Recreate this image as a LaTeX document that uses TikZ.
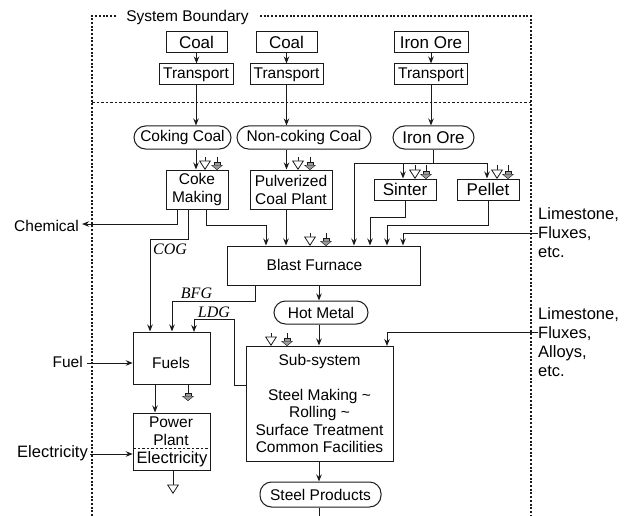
\documentclass[tikz,border=0pt]{standalone}
\usepackage{fontspec}
\setmainfont{Liberation Sans}
\newfontfamily\gasfont{Liberation Serif}
\usepackage{xcolor}
\definecolor{cLine}{HTML}{1A1A1A}
\definecolor{cWaste}{HTML}{9A9A9A}
\usetikzlibrary{positioning,arrows.meta,calc}
\tikzset{
  node-box/.style={draw=cLine,line width=1pt,inner sep=0pt,align=center,
    font=\fontsize{15.5}{18}\selectfont},
  node-pill/.style={node-box,rounded corners=11.5pt},
  node-large/.style={font=\fontsize{17}{20}\selectfont},
  node-text/.style={inner sep=0pt,align=left,font=\fontsize{15.5}{19}\selectfont},
  node-outer/.style={node-text,font=\fontsize{16.5}{19}\selectfont},
  node-gas/.style={inner sep=0pt,font=\fontsize{16}{18}\gasfont\itshape},
  arrow/.style={-{Stealth[length=7pt,width=5.5pt]},line width=1pt,draw=cLine},
  line-plain/.style={line width=1pt,draw=cLine},
  arrow-white/.style={-{Triangle[open,fill=white,length=9.5pt,width=12pt,line width=0.8pt]},line width=0.8pt,draw=cLine},
  arrow-grey/.style={-{Rectangle[length=3.5pt,width=6pt,fill=cWaste,line width=0.4pt,sep=0pt]Triangle[fill=cWaste,length=5pt,width=12pt,line width=0.4pt]},line width=0.8pt,draw=cLine},
  boundary/.style={line width=2pt,draw=cLine,dash pattern=on 2pt off 1.7pt},
  divider/.style={line width=0.9pt,draw=cLine,dash pattern=on 2.5pt off 2pt},
}
\begin{document}
\begin{tikzpicture}[x=1pt,y=-1pt]
  \useasboundingbox (0,0) rectangle (634,516);
  % boundary
  \node[node-text] (sysb) at (187.5,17) {System Boundary};
  \coordinate (bl-top) at (92,16);
  \coordinate (bl-bot) at (92,516);
  \coordinate (br-top) at (531,16);
  \coordinate (br-bot) at (531,516);
  \coordinate (bl-mid) at (92,102);
  \coordinate (br-mid) at (531,102);
  \coordinate (sb-a) at (116,16);
  \coordinate (sb-b) at (260,16);
  \draw[boundary] (bl-bot) -- (bl-top) -- (sb-a);
  \draw[boundary] (sb-b) -- (br-top) -- (br-bot);
  \draw[divider] (bl-mid) -- (br-mid);
  % supply
  \node[node-box,node-large,minimum width=61pt,minimum height=21pt] (coal-a) at (196.5,42.5) {Coal};
  \node[node-box,minimum width=74pt,minimum height=21pt] (trans-a) at (196,74.5) {Transport};
  \node[node-box,node-large,minimum width=61pt,minimum height=21pt] (coal-b) at (286.5,42.5) {Coal};
  \node[node-box,minimum width=73pt,minimum height=21pt] (trans-b) at (286.5,74.5) {Transport};
  \node[node-box,node-large,minimum width=74pt,minimum height=21pt] (ore-a) at (431,42.5) {Iron Ore};
  \node[node-box,minimum width=73pt,minimum height=21pt] (trans-c) at (431,74.5) {Transport};
  \node[node-pill,minimum width=97pt,minimum height=23pt] (coking) at (182.5,137.5) {Coking Coal};
  \node[node-pill,minimum width=134pt,minimum height=23pt] (noncoking) at (304,137.5) {Non-coking Coal};
  \node[node-pill,node-large,minimum width=81pt,minimum height=23pt] (ore-b) at (433.5,137.5) {Iron Ore};
  % plants
  \node[node-box,minimum width=62pt,minimum height=39pt] (coke) at (197,189.5) {Coke\\Making};
  \node[node-box,minimum width=82pt,minimum height=39pt] (pulv) at (291,189.5) {Pulverized\\Coal Plant};
  \node[node-box,node-large,minimum width=62pt,minimum height=21pt] (sinter) at (405,189.5) {Sinter};
  \node[node-box,node-large,minimum width=62pt,minimum height=21pt] (pellet) at (488,189.5) {Pellet};
  \node[node-box,minimum width=193pt,minimum height=39pt] (furnace) at (323.5,265.5) {};
  \node[node-text] (furnace-t) at (314.5,265) {Blast Furnace};
  \node[node-pill,minimum width=94pt,minimum height=23pt] (hot) at (321,312.5) {Hot Metal};
  \node[node-box,minimum width=147pt,minimum height=115pt] (sub) at (319.5,403.5) {};
  \node[node-text,align=center] (sub-a) at (319.5,361) {Sub-system};
  \node[node-text,align=center,font=\fontsize{15.5}{17.4}\selectfont] (sub-b) at (319.5,421) {Steel Making \textasciitilde\\Rolling \textasciitilde\\Surface Treatment\\Common Facilities};
  \node[node-pill,minimum width=121pt,minimum height=25pt] (steel) at (320.5,494.5) {Steel Products};
  \node[node-box,minimum width=77.5pt,minimum height=52pt] (fuels) at (172,358) {};
  \node[node-text] (fuels-t) at (171,363) {Fuels};
  \node[node-box,minimum width=77.5pt,minimum height=57pt] (power) at (172,441.5) {};
  \node[node-text,align=center,font=\fontsize{15.5}{18}\selectfont] (power-a) at (171,431) {Power\\Plant};
  \node[node-text,font=\fontsize{16.5}{19}\selectfont] (power-b) at (172,459) {Electricity};
  \coordinate (div-a) at (133.25,448);
  \coordinate (div-b) at (210.75,448);
  \draw[divider] (div-a) -- (div-b);
  % outside labels
  \node[node-text,anchor=east] (chem) at (79,226) {Chemical};
  \node[node-text,anchor=east] (fuel) at (83,362) {Fuel};
  \node[node-outer,anchor=east] (elec) at (88,453) {Electricity};
  \node[node-outer,anchor=west] (lime-a) at (538,233) {Limestone,\\Fluxes,\\etc.};
  \node[node-outer,anchor=west] (lime-b) at (538,342) {Limestone,\\Fluxes,\\Alloys,\\etc.};
  \node[node-gas] (cog) at (170,249) {COG};
  \node[node-gas] (bfg) at (196.5,293) {BFG};
  \node[node-gas] (ldg) at (214,312) {LDG};
  % main flows
  \draw[arrow] (coal-a) -- (trans-a.north -| coal-a);
  \draw[arrow] (coal-b) -- (trans-b.north -| coal-b);
  \draw[arrow] (ore-a) -- (trans-c.north -| ore-a);
  \draw[arrow] (trans-a.south) -- (trans-a.south |- coking.north);
  \draw[arrow] (trans-b.south) -- (trans-b.south |- noncoking.north);
  \draw[arrow] (trans-c.south) -- (trans-c.south |- ore-b.north);
  \draw[arrow] (trans-a.south |- coking.south) -- (trans-a.south |- coke.north);
  \draw[arrow] (trans-b.south |- noncoking.south) -- (trans-b.south |- pulv.north);
  \draw[line-plain] (ore-b.south) -- ++(0,13.5) coordinate (ore-j);
  \coordinate (ore-l) at (354,163);
  \coordinate (ore-r) at (487,163);
  \coordinate (ore-s) at (403,163);
  \draw[line-plain] (ore-l) -- (ore-r);
  \draw[arrow] (ore-l) -- (furnace.north -| ore-l);
  \draw[arrow] (ore-s) -- (sinter.north -| ore-s);
  \draw[arrow] (ore-r) -- (pellet.north -| ore-r);
  \coordinate (cf-a) at (266,225);
  \coordinate (pf-a) at (286,209);
  \coordinate (sf-a) at (370,217);
  \coordinate (lf-a) at (387,225);
  \coordinate (mf-a) at (403,233);
  \coordinate (cg-a) at (150,239);
  \coordinate (bf-a) at (255,285);
  \coordinate (bf-b) at (172,301);
  \coordinate (ld-a) at (246,385);
  \coordinate (ld-b) at (234,319);
  \coordinate (ld-c) at (194,332);
  \draw[arrow] ([xshift=9pt]coke.south) |- (cf-a) -- (furnace.north -| cf-a);
  \draw[arrow] (pf-a) -- (furnace.north -| pf-a);
  \draw[arrow] (sinter.south) |- (sf-a) -- (furnace.north -| sf-a);
  \draw[arrow] (pellet.south) |- (lf-a) -- (furnace.north -| lf-a);
  \draw[arrow] (lime-a.west) -- (mf-a) -- (furnace.north -| mf-a);
  \draw[arrow] ([xshift=-20pt]coke.south) |- ([xshift=3pt,yshift=2pt]chem.east);
  \draw[arrow] ([xshift=-9pt]coke.south) |- (cg-a) -- (fuels.north -| cg-a);
  \draw[arrow] (bf-a) |- (bf-b) -- (fuels.north -| bf-b);
  \draw[arrow] (ld-a) -| (ld-b) -| (ld-c);
  \coordinate (axis-a) at (319,285);
  \coordinate (axis-b) at (319,516);
  \draw[arrow] (axis-a) -- (hot.north -| axis-a);
  \draw[arrow] (hot.south -| axis-a) -- (sub.north -| axis-a);
  \coordinate (lm-a) at (387,346);
  \draw[arrow] ([yshift=10pt]lime-b.west) -| (lm-a);
  \draw[arrow] (sub.south -| axis-a) -- (steel.north -| axis-a);
  \draw[line-plain] (steel.south -| axis-a) -- (axis-b);
  \coordinate (fu-a) at (87,363);
  \coordinate (el-a) at (90,454);
  \draw[arrow] (fu-a) -- (fuels.west |- fu-a);
  \draw[arrow] (el-a) -- (power.west |- el-a);
  \coordinate (pw-a) at (155,384);
  \draw[arrow] (pw-a) -- (power.north -| pw-a);
  \coordinate (ash) at (173,494);
  \draw[arrow-white] (power.south -| ash) -- (ash);
  \coordinate (gas) at (188,401);
  \draw[arrow-grey] (fuels.south -| gas) -- (gas);
  % waste marks on top of the plants
  \foreach \wx/\wy/\wtop in {205/170/157,298/170/157,415/179/165,497/179/165,310/246/233,271/346/333}
    \draw[arrow-white] (\wx,\wtop) -- (\wx,\wy);
  \foreach \gx/\gy/\gtop in {217/170/157,310/170/157,426/179/165,508/179/165,326/246/233,287/346/333}
    \draw[arrow-grey] (\gx,\gtop) -- (\gx,\gy);
\end{tikzpicture}
\end{document}
